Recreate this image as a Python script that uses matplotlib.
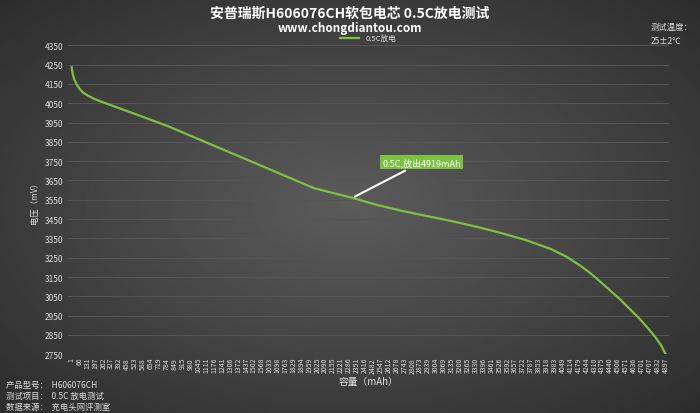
import numpy as np
import matplotlib.pyplot as plt

plt.rcParams['font.family'] = ['Noto Sans CJK SC', 'DejaVu Sans']

# discharge curve (mAh, mV)
capacity = [1, 10, 25, 45, 70, 100, 140, 190, 260, 500, 800, 1100, 1400, 1700, 2000, 2315,
            2520, 2720, 2920, 3130, 3340, 3540, 3750, 3950, 4080, 4190, 4280, 4350, 4440,
            4520, 4600, 4680, 4750, 4810, 4860, 4897]
voltage = [4236, 4200, 4170, 4145, 4122, 4103, 4088, 4072, 4055, 4000, 3930, 3850, 3770,
           3690, 3610, 3560, 3523, 3493, 3467, 3440, 3410, 3378, 3340, 3295, 3255, 3210,
           3168, 3130, 3080, 3035, 2985, 2935, 2885, 2840, 2795, 2750]

x_ticks = [1, 66, 131, 197, 262, 327, 392, 458, 523, 588, 654, 719, 784, 849, 915, 980,
           1045, 1111, 1176, 1241, 1306, 1372, 1437, 1502, 1568, 1633, 1698, 1763, 1829,
           1894, 1959, 2025, 2090, 2155, 2221, 2286, 2351, 2416, 2482, 2547, 2612, 2678,
           2743, 2808, 2873, 2939, 3004, 3069, 3135, 3200, 3265, 3330, 3396, 3461, 3526,
           3592, 3657, 3722, 3787, 3853, 3918, 3983, 4049, 4114, 4179, 4244, 4310, 4375,
           4440, 4506, 4571, 4636, 4701, 4767, 4832, 4897]
y_ticks = list(range(2750, 4351, 100))

fig = plt.figure(figsize=(7, 4.14), dpi=100)
# dark radial-ish background
bg = fig.add_axes([0, 0, 1, 1])
yy, xx = np.mgrid[-1:1:200j, -1:1:300j]
r = np.sqrt(xx ** 2 + yy ** 2)
bg.imshow(0.36 - 0.13 * r, cmap='gray', vmin=0, vmax=1, aspect='auto', extent=[0, 1, 0, 1])
bg.axis('off')

ax = fig.add_axes([0.097, 0.142, 0.858, 0.746])
ax.patch.set_alpha(0)
ax.plot(capacity, voltage, color='#7cc142', lw=1.6, label='0.5C放电')
ax.set_xlim(-30, 4920)
ax.set_ylim(2750, 4350)
ax.set_yticks(y_ticks)
ax.set_xticks(x_ticks)
ax.set_xticklabels([str(t) for t in x_ticks], rotation=90, fontsize=5, color='#dddddd')
ax.tick_params(axis='y', labelsize=6, colors='#dddddd', length=0)
ax.tick_params(axis='x', length=0, pad=2)
ax.grid(axis='y', color='#555555', lw=0.7)
for s in ax.spines.values():
    s.set_visible(False)
ax.set_xlabel('容量（mAh）', fontsize=7, color='#dddddd', labelpad=2)
ax.set_ylabel('电压（mV）', fontsize=6, color='#dddddd')

ax.annotate('0.5C,放出4919mAh', xy=(2315, 3560), xytext=(2560, 3730),
            fontsize=6.5, color='white',
            bbox=dict(boxstyle='square,pad=0.25', fc='#7cc142', ec='none'),
            arrowprops=dict(arrowstyle='-', color='white', lw=1.5))

leg = ax.legend(loc='lower center', bbox_to_anchor=(0.5, 0.995), frameon=False,
                fontsize=5.5, handlelength=2.5, labelcolor='#dddddd', borderpad=0.1)

fig.text(0.5, 0.968, '安普瑞斯H606076CH软包电芯 0.5C放电测试', ha='center', va='center',
         fontsize=10, color='white', fontweight='bold')
fig.text(0.5, 0.932, 'www.chongdiantou.com', ha='center', va='center',
         fontsize=8.5, color='white', fontweight='bold')
fig.text(0.93, 0.935, '测试温度：', fontsize=6, color='#dddddd', va='center')
fig.text(0.93, 0.9, '25±2℃', fontsize=6, color='#dddddd', va='center')
fig.text(0.008, 0.068, '产品型号：  H606076CH', fontsize=6, color='#dddddd', va='center')
fig.text(0.008, 0.042, '测试项目：  0.5C 放电测试', fontsize=6, color='#dddddd', va='center')
fig.text(0.008, 0.016, '数据来源：  充电头网评测室', fontsize=6, color='#dddddd', va='center')

fig.savefig('out.png', dpi=100)
